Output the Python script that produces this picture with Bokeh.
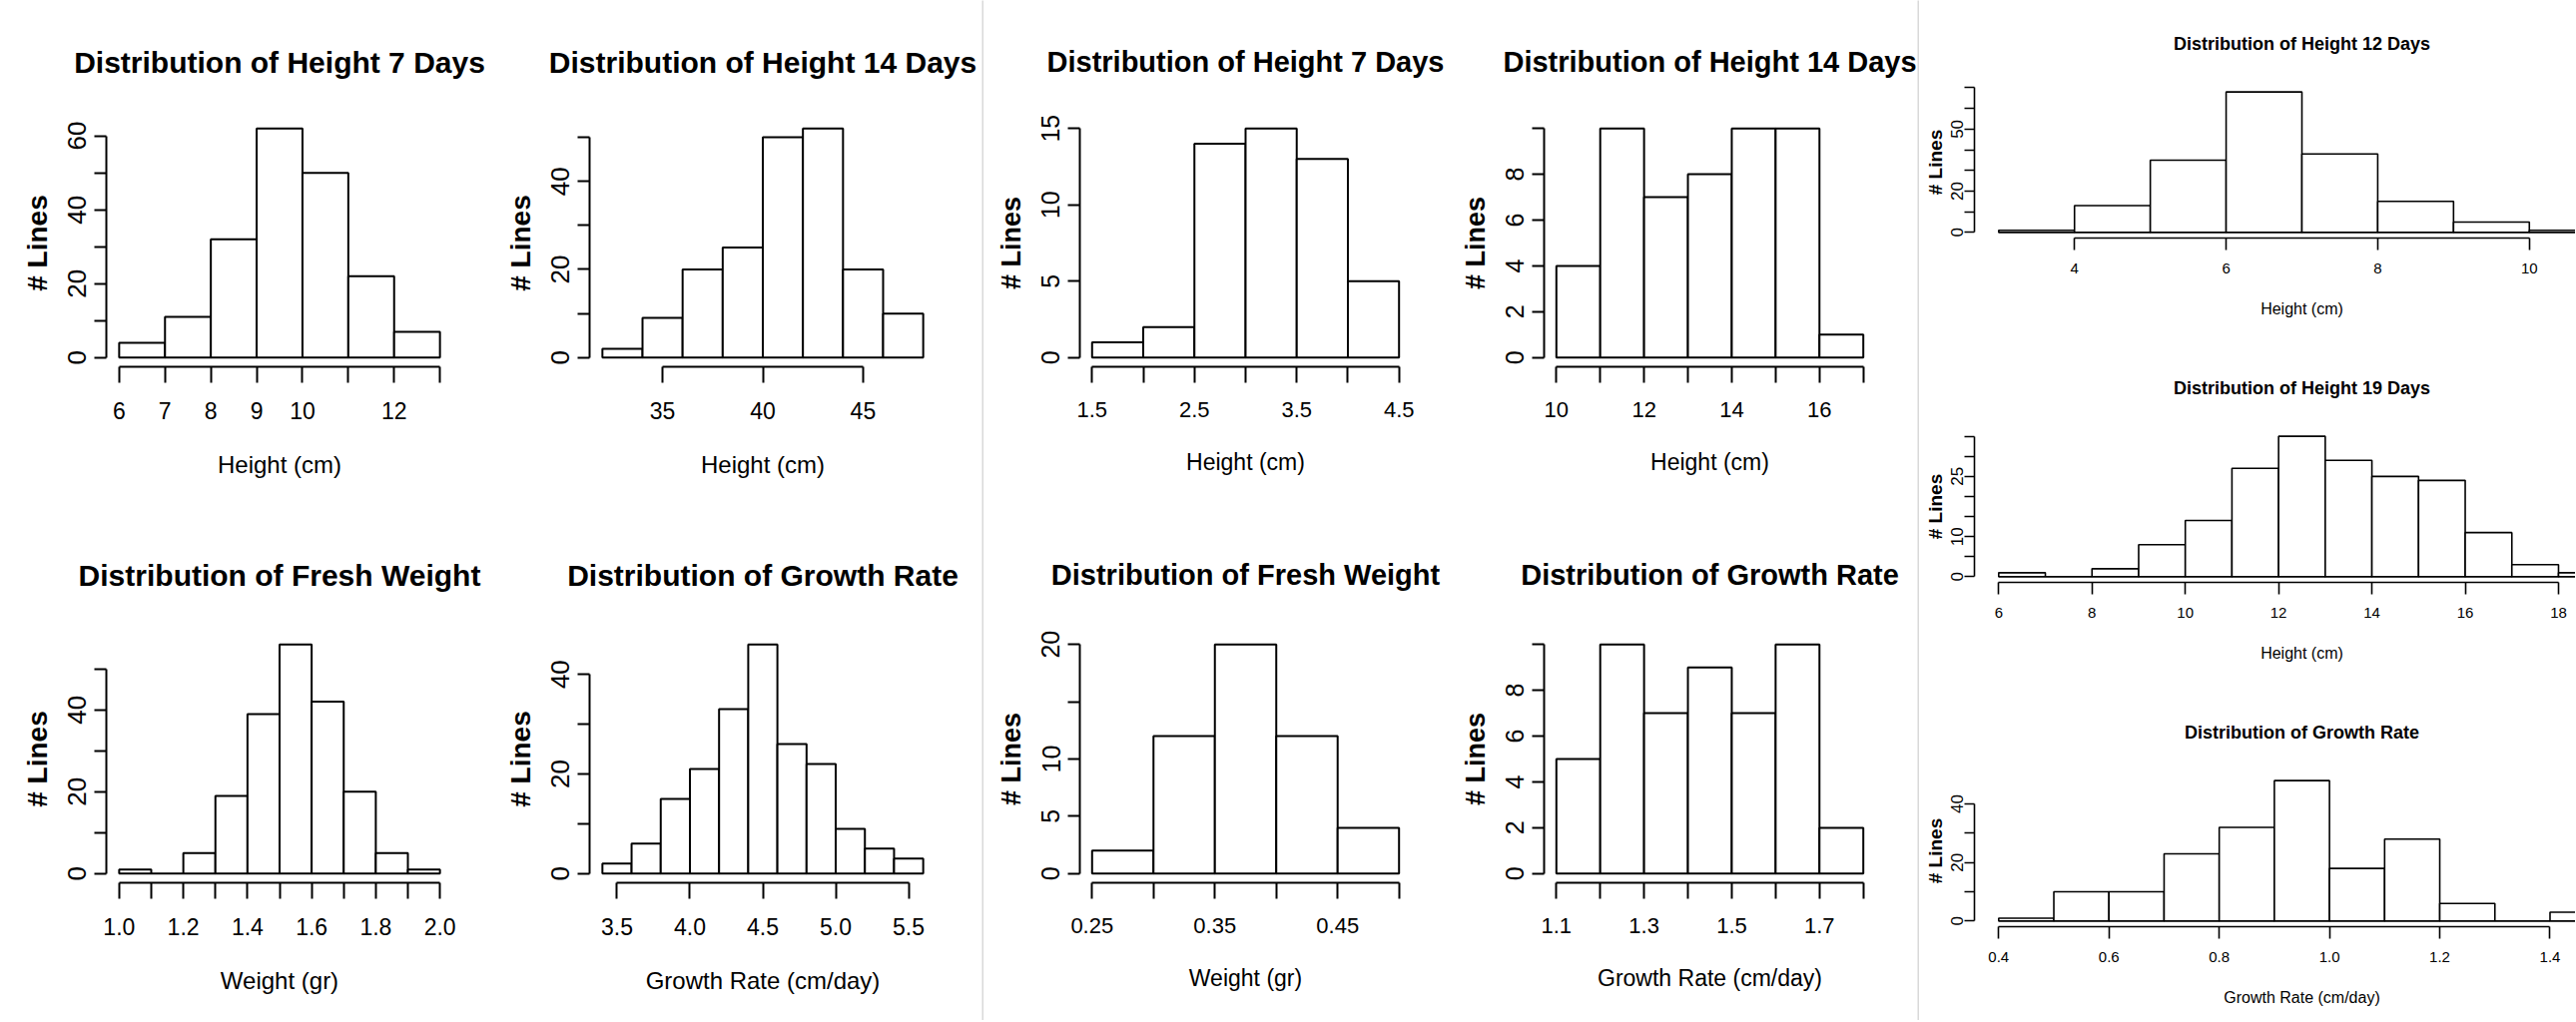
from bokeh.plotting import figure
from bokeh.layouts import row, column
from bokeh.models import Range1d, FixedTicker, Title
from bokeh.embed import file_html
from bokeh.resources import INLINE

# ---------------- data ----------------
# left group
h7a_breaks = [6, 7, 8, 9, 10, 11, 12, 13]
h7a_counts = [4, 11, 32, 62, 50, 22, 7]
h7a_xticks = [6, 7, 8, 9, 10, 11, 12, 13]
h7a_xlabels = ["6", "7", "8", "9", "10", "", "12", ""]
h7a_yticks = [0, 10, 20, 30, 40, 50, 60]
h7a_ylabels = ["0", "", "20", "", "40", "", "60"]

h14a_breaks = [32, 34, 36, 38, 40, 42, 44, 46, 48]
h14a_counts = [2, 9, 20, 25, 50, 52, 20, 10]
h14a_xticks = [35, 40, 45]
h14a_xlabels = ["35", "40", "45"]
h14a_yticks = [0, 10, 20, 30, 40, 50]
h14a_ylabels = ["0", "", "20", "", "40", ""]

fwa_breaks = [1.0, 1.1, 1.2, 1.3, 1.4, 1.5, 1.6, 1.7, 1.8, 1.9, 2.0]
fwa_counts = [1, 0, 5, 19, 39, 56, 42, 20, 5, 1]
fwa_xticks = [1.0, 1.1, 1.2, 1.3, 1.4, 1.5, 1.6, 1.7, 1.8, 1.9, 2.0]
fwa_xlabels = ["1.0", "", "1.2", "", "1.4", "", "1.6", "", "1.8", "", "2.0"]
fwa_yticks = [0, 10, 20, 30, 40, 50]
fwa_ylabels = ["0", "", "20", "", "40", ""]

gra_breaks = [3.4, 3.6, 3.8, 4.0, 4.2, 4.4, 4.6, 4.8, 5.0, 5.2, 5.4, 5.6]
gra_counts = [2, 6, 15, 21, 33, 46, 26, 22, 9, 5, 3]
gra_xticks = [3.5, 4.0, 4.5, 5.0, 5.5]
gra_xlabels = ["3.5", "4.0", "4.5", "5.0", "5.5"]
gra_yticks = [0, 10, 20, 30, 40]
gra_ylabels = ["0", "", "20", "", "40"]

# middle group
h7b_breaks = [1.5, 2.0, 2.5, 3.0, 3.5, 4.0, 4.5]
h7b_counts = [1, 2, 14, 15, 13, 5]
h7b_xticks = [1.5, 2.0, 2.5, 3.0, 3.5, 4.0, 4.5]
h7b_xlabels = ["1.5", "", "2.5", "", "3.5", "", "4.5"]
h7b_yticks = [0, 5, 10, 15]
h7b_ylabels = ["0", "5", "10", "15"]

h14b_breaks = [10, 11, 12, 13, 14, 15, 16, 17]
h14b_counts = [4, 10, 7, 8, 10, 10, 1]
h14b_xticks = [10, 11, 12, 13, 14, 15, 16, 17]
h14b_xlabels = ["10", "", "12", "", "14", "", "16", ""]
h14b_yticks = [0, 2, 4, 6, 8, 10]
h14b_ylabels = ["0", "2", "4", "6", "8", ""]

fwb_breaks = [0.25, 0.30, 0.35, 0.40, 0.45, 0.50]
fwb_counts = [2, 12, 20, 12, 4]
fwb_xticks = [0.25, 0.30, 0.35, 0.40, 0.45, 0.50]
fwb_xlabels = ["0.25", "", "0.35", "", "0.45", ""]
fwb_yticks = [0, 5, 10, 15, 20]
fwb_ylabels = ["0", "5", "10", "", "20"]

grb_breaks = [1.1, 1.2, 1.3, 1.4, 1.5, 1.6, 1.7, 1.8]
grb_counts = [5, 10, 7, 9, 7, 10, 2]
grb_xticks = [1.1, 1.2, 1.3, 1.4, 1.5, 1.6, 1.7, 1.8]
grb_xlabels = ["1.1", "", "1.3", "", "1.5", "", "1.7", ""]
grb_yticks = [0, 2, 4, 6, 8, 10]
grb_ylabels = ["0", "2", "4", "6", "8", ""]

# right column
h12c_breaks = [3, 4, 5, 6, 7, 8, 9, 10, 11]
h12c_counts = [1, 13, 35, 68, 38, 15, 5, 1]
h12c_xticks = [4, 6, 8, 10]
h12c_xlabels = ["4", "6", "8", "10"]
h12c_yticks = [0, 10, 20, 30, 40, 50, 60, 70]
h12c_ylabels = ["0", "", "20", "", "", "50", "", ""]

h19c_breaks = [6, 7, 8, 9, 10, 11, 12, 13, 14, 15, 16, 17, 18, 19]
h19c_counts = [1, 0, 2, 8, 14, 27, 35, 29, 25, 24, 11, 3, 1]
h19c_xticks = [6, 8, 10, 12, 14, 16, 18]
h19c_xlabels = ["6", "8", "10", "12", "14", "16", "18"]
h19c_yticks = [0, 5, 10, 15, 20, 25, 30, 35]
h19c_ylabels = ["0", "", "10", "", "", "25", "", ""]

grc_breaks = [0.4, 0.5, 0.6, 0.7, 0.8, 0.9, 1.0, 1.1, 1.2, 1.3, 1.4, 1.5]
grc_counts = [1, 10, 10, 23, 32, 48, 18, 28, 6, 0, 3]
grc_xticks = [0.4, 0.6, 0.8, 1.0, 1.2, 1.4]
grc_xlabels = ["0.4", "0.6", "0.8", "1.0", "1.2", "1.4"]
grc_yticks = [0, 10, 20, 30, 40]
grc_ylabels = ["0", "", "20", "", "40"]

# ---------------- styles ----------------
SANS = "Liberation Sans"

LEFT = dict(title_size=30, title_gap=41, lw=2, xtick_out=16, ytick_out=12,
            xtick_size="23px", xtick_standoff=19, xlab_size="24px", xlab_standoff=29,
            ytick_size="26px", ytick_standoff=8, ylab_size="28px", ylab_standoff=13)
MID = dict(LEFT, title_size=29, title_gap=41.5, xtick_size="22px", xlab_size="23px",
           ytick_size="25px", ylab_size="27px")
RIGHT = dict(title_size=18, title_gap=32.7, lw=1.6, xtick_out=12, ytick_out=10,
             xtick_size="15px", xtick_standoff=13, xlab_size=16, xlab_gap=21.5,
             ytick_size="17px", ytick_standoff=1, ylab_size="19px", ylab_standoff=3)

RIGHT_FULL_FRAME = 656   # width the right-hand plots would have uncropped
RIGHT_VIS_FRAME = 602    # part of it visible inside the page

# advance widths (1/1000 em) of the Arial-metric Liberation Sans, for centring
BOLD_W = {' ': 278, 'D': 722, 'i': 278, 's': 556, 't': 333, 'r': 389, 'b': 611,
          'u': 611, 'o': 611, 'n': 611, 'f': 333, 'H': 722, 'e': 556, 'g': 611,
          'h': 611, '1': 556, '2': 556, '9': 556, 'a': 556, 'y': 556, 'G': 778,
          'w': 778, 'R': 722}
REG_W = {' ': 278, 'H': 722, 'e': 556, 'i': 222, 'g': 556, 'h': 556, 't': 278,
         '(': 333, 'c': 500, 'm': 833, ')': 333, 'G': 778, 'r': 333, 'o': 556,
         'w': 722, 'R': 722, 'a': 556, '/': 278, 'd': 556, 'y': 500}


def text_width(s, size, bold):
    table = BOLD_W if bold else REG_W
    return sum(table.get(c, 556) for c in s) * size / 1000.0


def spacer_title(gap):
    # invisible element that pushes the next title away from the frame
    return Title(text=" ", text_font_size="1px", standoff=max(gap - 3.0, 0.0))


def hist_panel(title, xlab, breaks, counts, xticks, xlabels, yticks, ylabels,
               size, borders, st, crop=False, title_gap=None):
    w, h = size
    bl, br, bt, bb = borders
    span = breaks[-1] - breaks[0]
    x0 = breaks[0] - 0.04 * span
    x1 = breaks[-1] + 0.04 * span
    if crop:
        x1 = x0 + (x1 - x0) * RIGHT_VIS_FRAME / RIGHT_FULL_FRAME
    ymax = max(counts)
    p = figure(width=w, height=h, output_backend="svg", toolbar_location=None,
               x_range=Range1d(x0, x1), y_range=Range1d(-0.04 * ymax, 1.04 * ymax),
               min_border_left=bl, min_border_right=br,
               min_border_top=bt, min_border_bottom=bb)
    p.outline_line_color = None
    p.grid.visible = False
    p.background_fill_color = "white"
    p.border_fill_color = "white"

    p.quad(left=breaks[:-1], right=breaks[1:], bottom=0, top=counts,
           fill_color="white", line_color="black", line_width=st["lw"])

    for ax, ticks, labels, kind in ((p.xaxis[0], xticks, xlabels, "x"),
                                    (p.yaxis[0], yticks, ylabels, "y")):
        ax.ticker = FixedTicker(ticks=ticks, minor_ticks=[])
        ax.bounds = (ticks[0], ticks[-1])
        ax.major_label_overrides = dict(zip(ticks, labels))
        ax.minor_tick_line_color = None
        ax.major_tick_in = 0
        ax.major_tick_out = st[kind + "tick_out"]
        ax.axis_line_width = st["lw"]
        ax.major_tick_line_width = st["lw"]
        ax.axis_line_color = "black"
        ax.major_tick_line_color = "black"
        ax.major_label_text_color = "black"
        ax.major_label_text_font = SANS
        ax.major_label_text_font_size = st[kind + "tick_size"]
        ax.major_label_standoff = st[kind + "tick_standoff"]
        ax.axis_label_text_color = "black"

    ya = p.yaxis[0]
    ya.major_label_orientation = "vertical"
    ya.axis_label = "# Lines"
    ya.axis_label_text_font = SANS
    ya.axis_label_text_font_size = st["ylab_size"]
    ya.axis_label_text_font_style = "bold"
    ya.axis_label_standoff = st["ylab_standoff"]

    # title: spacer then text, stacked upward from the frame
    gap = title_gap if title_gap is not None else st["title_gap"]
    p.add_layout(spacer_title(gap), "above")
    tsize = st["title_size"]
    if crop:
        off = RIGHT_FULL_FRAME / 2.0 - text_width(title, tsize, True) / 2.0
        t = Title(text=title, align="left", offset=off, standoff=0)
    else:
        t = Title(text=title, align="center", standoff=0)
    t.text_font = SANS
    t.text_font_size = "%gpx" % tsize
    t.text_font_style = "bold"
    t.text_color = "black"
    p.add_layout(t, "above")

    xa = p.xaxis[0]
    if not crop:
        xa.axis_label = xlab
        xa.axis_label_text_font = SANS
        xa.axis_label_text_font_size = st["xlab_size"]
        xa.axis_label_text_font_style = "normal"
        xa.axis_label_standoff = st["xlab_standoff"]
    else:
        # label centred under the full (uncropped) plot region
        p.add_layout(spacer_title(st["xlab_gap"]), "below")
        off = RIGHT_FULL_FRAME / 2.0 - text_width(xlab, st["xlab_size"], False) / 2.0
        p.add_layout(Title(text=xlab, align="left", offset=off, standoff=0,
                           text_font=SANS, text_font_size="%gpx" % st["xlab_size"],
                           text_font_style="normal", text_color="black"), "below")
    return p


def separator(h):
    s = figure(width=2, height=h, output_backend="svg", toolbar_location=None,
               min_border=0, x_axis_location=None, y_axis_location=None,
               background_fill_color="#d9d9d9", border_fill_color="#d9d9d9",
               outline_line_color=None)
    s.grid.visible = False
    return s


TOTAL_H = 1022

p1 = hist_panel("Distribution of Height 7 Days", "Height (cm)", h7a_breaks, h7a_counts,
                h7a_xticks, h7a_xlabels, h7a_yticks, h7a_ylabels,
                (490, 487), (106, 37, 119, 120), LEFT)
p3 = hist_panel("Distribution of Fresh Weight", "Weight (gr)", fwa_breaks, fwa_counts,
                fwa_xticks, fwa_xlabels, fwa_yticks, fwa_ylabels,
                (490, 535), (106, 37, 149, 138), LEFT, title_gap=44)
p2 = hist_panel("Distribution of Height 14 Days", "Height (cm)", h14a_breaks, h14a_counts,
                h14a_xticks, h14a_xlabels, h14a_yticks, h14a_ylabels,
                (493, 487), (100, 46, 119, 120), LEFT)
p4 = hist_panel("Distribution of Growth Rate", "Growth Rate (cm/day)", gra_breaks, gra_counts,
                gra_xticks, gra_xlabels, gra_yticks, gra_ylabels,
                (493, 535), (100, 46, 149, 138), LEFT, title_gap=44)

p5 = hist_panel("Distribution of Height 7 Days", "Height (cm)", h7b_breaks, h7b_counts,
                h7b_xticks, h7b_xlabels, h7b_yticks, h7b_ylabels,
                (463, 487), (96, 35, 119, 120), MID)
p7 = hist_panel("Distribution of Fresh Weight", "Weight (gr)", fwb_breaks, fwb_counts,
                fwb_xticks, fwb_xlabels, fwb_yticks, fwb_ylabels,
                (463, 535), (96, 35, 149, 138), MID, title_gap=44.5)
p6 = hist_panel("Distribution of Height 14 Days", "Height (cm)", h14b_breaks, h14b_counts,
                h14b_xticks, h14b_xlabels, h14b_yticks, h14b_ylabels,
                (472, 487), (98, 42, 119, 120), MID)
p8 = hist_panel("Distribution of Growth Rate", "Growth Rate (cm/day)", grb_breaks, grb_counts,
                grb_xticks, grb_xlabels, grb_yticks, grb_ylabels,
                (472, 535), (98, 42, 149, 138), MID, title_gap=44.5)

p9 = hist_panel("Distribution of Height 12 Days", "Height (cm)", h12c_breaks, h12c_counts,
                h12c_xticks, h12c_xlabels, h12c_yticks, h12c_ylabels,
                (657, 353), (55, 0, 86, 115), RIGHT, crop=True)
p10 = hist_panel("Distribution of Height 19 Days", "Height (cm)", h19c_breaks, h19c_counts,
                 h19c_xticks, h19c_xlabels, h19c_yticks, h19c_ylabels,
                 (657, 345), (55, 0, 78, 115), RIGHT, crop=True)
p11 = hist_panel("Distribution of Growth Rate", "Growth Rate (cm/day)", grc_breaks, grc_counts,
                 grc_xticks, grc_xlabels, grc_yticks, grc_ylabels,
                 (657, 324), (55, 0, 78, 94), RIGHT, crop=True)

layout = row(column(p1, p3), column(p2, p4), separator(TOTAL_H),
             column(p5, p7), column(p6, p8), separator(TOTAL_H),
             column(p9, p10, p11))

open("out.html", "w").write(file_html(layout, INLINE))
